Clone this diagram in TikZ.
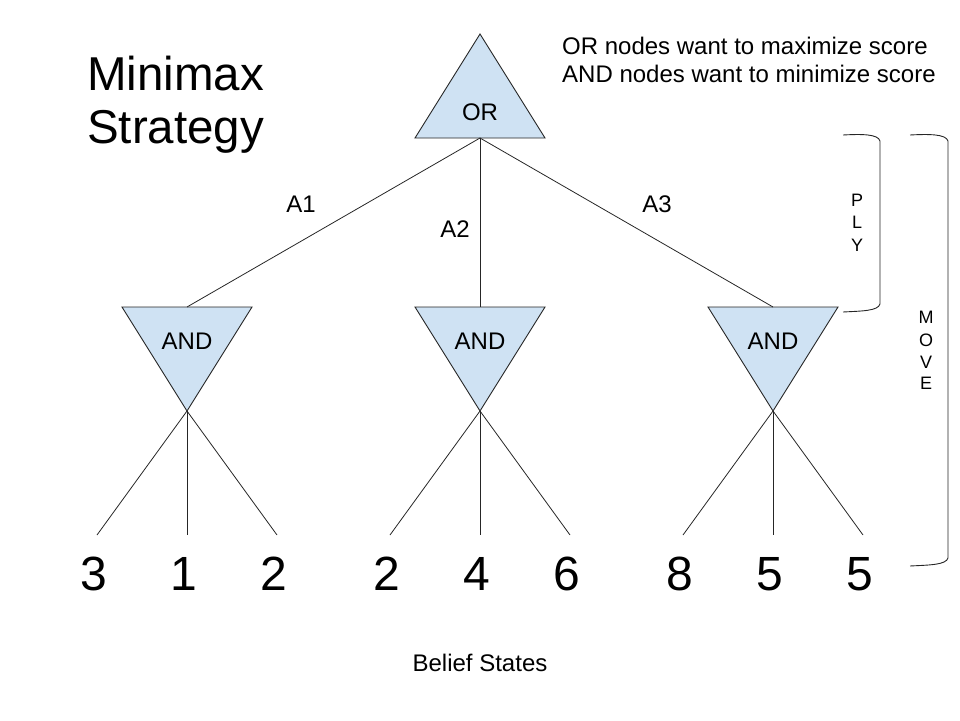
\documentclass[tikz,border=0pt]{standalone}
\usepackage{fontspec}
\setmainfont{Liberation Sans}
\usetikzlibrary{calc}
\definecolor{triblue}{HTML}{CFE2F3}
\tikzset{
  tri/.style={draw=black!85, fill=triblue, line width=0.9pt, line join=miter},
  edge/.style={draw=black!85, line width=0.8pt},
  lbl/.style={inner sep=0pt, font=\fontsize{24}{28}\selectfont},
  big/.style={inner sep=0pt, font=\fontsize{48}{53}\selectfont},
  small/.style={inner sep=0pt, font=\fontsize{18}{20}\selectfont},
  brace/.style={draw=black!85, line width=0.9pt}
}
\begin{document}
\begin{tikzpicture}[x=1pt,y=-1pt]
\useasboundingbox (0,0) rectangle (960,720);
% OR triangle
\draw[tri] (480,34) -- (545,138) -- (415,138) -- cycle;
\coordinate (orbase) at (480,138);
\node[lbl] (ortext) at (480,112.5) {OR};
% AND triangles
\foreach \n/\x in {andL/187, andM/480, andR/773}{
  \draw[tri] (\x-65,307) -- (\x+65,307) -- (\x,411) -- cycle;
  \coordinate (\n top) at (\x,307);
  \coordinate (\n apex) at (\x,411);
  \node[lbl] (\n text) at (\x,341) {AND};
}
% edges from OR
\draw[edge] (orbase) -- (andLtop);
\draw[edge] (orbase) -- (andMtop);
\draw[edge] (orbase) -- (andRtop);
% action labels
\node[lbl] (a1) at (301,204) {A1};
\node[lbl] (a2) at (455,229) {A2};
\node[lbl] (a3) at (657,204) {A3};
% leaves
\foreach \n/\x/\v in {l1/97/3, l2/187/1, l3/277/2, l4/390/2, l5/480/4, l6/570/6, l7/683/8, l8/773/5, l9/863/5}{
  \coordinate (\n end) at (\x,535);
  \node[big] (\n) at (\x-3,574) {\v};
}
\foreach \a/\l in {andL/l1, andL/l2, andL/l3, andM/l4, andM/l5, andM/l6, andR/l7, andR/l8, andR/l9}{
  \draw[edge] (\a apex) -- (\l end);
}
% title
\node[big, align=left, anchor=north west, font=\fontsize{47.5}{53}\selectfont] (title) at (87,56) {Minimax\\Strategy};
% note
\node[lbl, align=left, anchor=north west, font=\fontsize{24}{28}\selectfont] (note) at (562,37) {OR nodes want to maximize score\\AND nodes want to minimize score};
% braces
\draw[brace] (843,135) .. controls (862,134) and (878,134) .. (880,141) -- (880,304) .. controls (878,311) and (862,311) .. (843,312);
\draw[brace] (910,135) .. controls (929,134) and (946,134) .. (948,141) -- (948,558) .. controls (946,565) and (929,565) .. (910,566);
\node[small] (p) at (857,200) {P};
\node[small] (l) at (857,222) {L};
\node[small] (y) at (857,245) {Y};
\node[small] (m) at (926,317) {M};
\node[small] (o) at (926,340) {O};
\node[small] (v) at (926,362) {V};
\node[small] (e) at (926,383) {E};
% bottom label
\node[lbl] (belief) at (480,663) {Belief States};
\end{tikzpicture}
\end{document}
